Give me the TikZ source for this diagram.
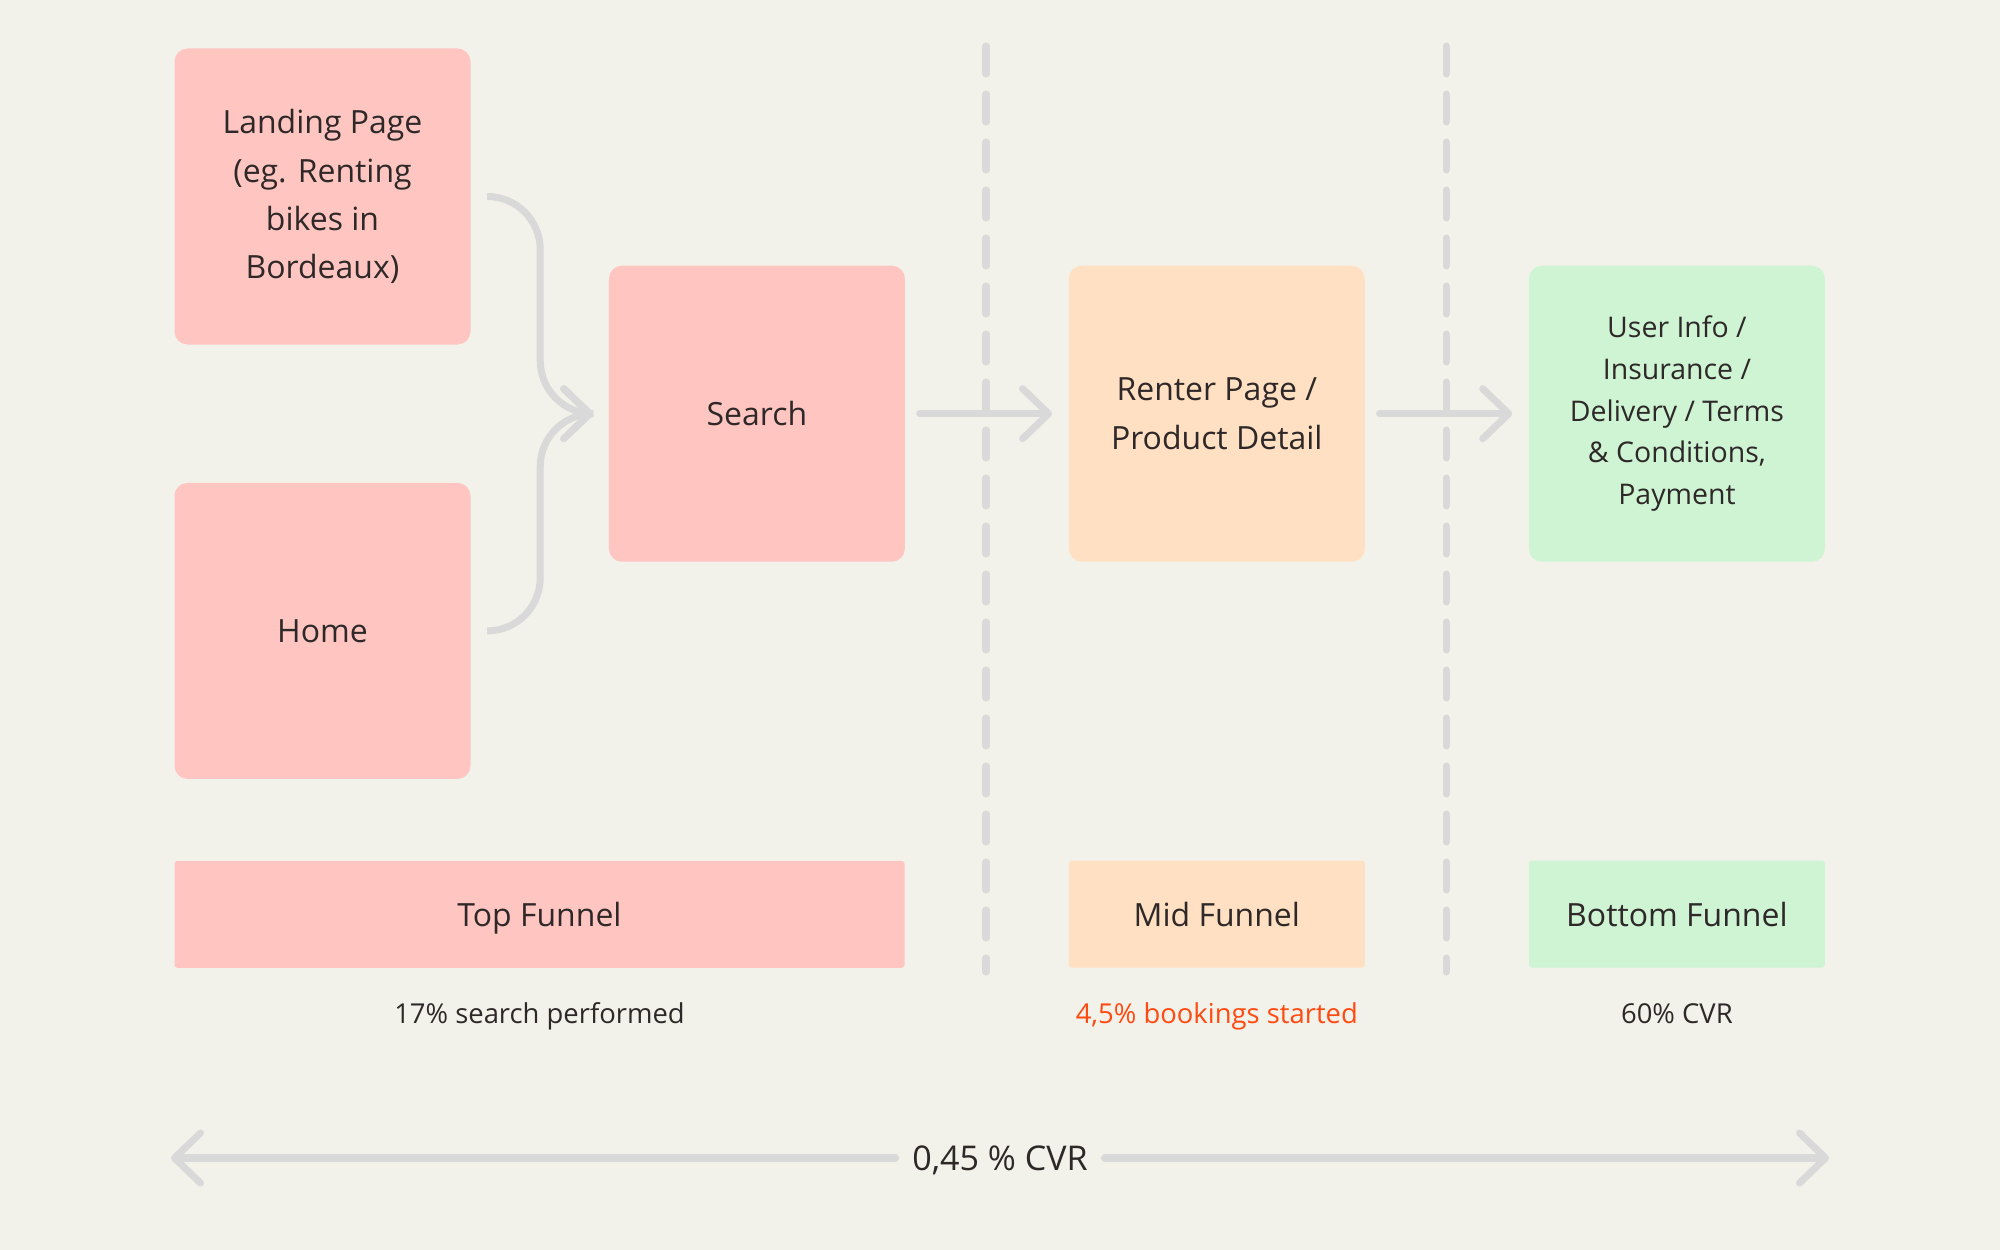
\documentclass[tikz,border=0pt]{standalone}
\usepackage{fontspec}
\setmainfont{Open Sans}
\usetikzlibrary{positioning}
\usetikzlibrary{calc,arrows.meta}
\definecolor{paper}{HTML}{F3F2EA}
\definecolor{toppink}{HTML}{FFC6C1}
\definecolor{midpeach}{HTML}{FFE0C2}
\definecolor{botgreen}{HTML}{CEF4D4}
\definecolor{wire}{HTML}{D9D9D9}
\definecolor{ink}{HTML}{2E2828}
\definecolor{alert}{HTML}{FF4A12}
\tikzset{
  page/.style={rounded corners=1.3mm, minimum width=2.96cm, minimum height=2.96cm,
    align=center, text=ink, inner sep=0pt, font=\fontsize{9.1}{13.7}\selectfont},
  stage/.style={rounded corners=0.3mm, minimum height=1.07cm, text=ink,
    inner sep=0pt, text height=0.97em, text depth=0.25em, font=\fontsize{9.1}{13.7}\selectfont},
  caption/.style={inner sep=0pt, text=ink, text height=0.97em, text depth=0.25em,
    font=\fontsize{7.8}{10}\selectfont},
  flow/.style={draw=wire, line width=2pt, line cap=round, rounded corners=5.3mm,
    -{Straight Barb[length=2.6mm,width=5mm,round]}},
  divider/.style={draw=wire, line width=2pt, line cap=round, dash pattern=on 2.8mm off 2mm}
}

\begin{document}
\begin{tikzpicture}[node distance=1.37cm]
      \fill[paper] (0,0) rectangle (20,-12.5);
      \useasboundingbox (0,0) rectangle (20,-12.5);

      \node(landing) [page, fill=toppink] at (3.225,-1.965) {Landing Page\\(eg. Renting\\bikes in\\Bordeaux)};
      \node(home) [page, fill=toppink, below=1.37cm of landing] {Home};
      \coordinate(mid) at ($(landing.east)!0.5!(home.east)$);
      \node(search) [page, fill=toppink, right=1.37cm of mid] {Search};
      \node(renter) [page, fill=midpeach, right=1.625cm of search] {Renter Page /\\Product Detail};
      \node(userinfo) [page, fill=botgreen, right=1.627cm of renter,
        font=\fontsize{8.1}{11.9}\selectfont] {User Info /\\Insurance /\\Delivery / Terms\\\& Conditions,\\Payment};

      \node(topf) [stage, fill=toppink, minimum width=7.3cm, below right=0.805cm and 0cm of home.south west] {Top Funnel};
      \node(midf) [stage, fill=midpeach, minimum width=2.96cm, below=2.975cm of renter] {Mid Funnel};
      \node(botf) [stage, fill=botgreen, minimum width=2.96cm, below=2.975cm of userinfo] {Bottom Funnel};

      \node(topc) [caption, below=0.2cm of topf] {17\% search performed};
      \node(midc) [caption, below=0.2cm of midf, text=alert] {4,5\% bookings started};
      \node(botc) [caption, below=0.2cm of botf] {60\% CVR};

      \node(cvr) [caption, inner xsep=1.6mm, font=\fontsize{9.7}{12}\selectfont] at (10,-11.58) {0,45 \% CVR};
      \coordinate(cvrl) at (1.71,-11.58);
      \coordinate(cvrr) at (18.29,-11.58);

      \coordinate(cut1a) at (9.86,-0.46);
      \coordinate(cut1b) at (9.86,-9.72);
      \coordinate(cut2a) at (14.46,-0.46);
      \coordinate(cut2b) at (14.46,-9.72);

      \draw[divider] (cut1a) -- (cut1b);
      \draw[divider] (cut2a) -- (cut2b);

      \draw[flow] ([xshift=1.6mm]landing.east) -| ([xshift=-6.8mm]search.west) -- ([xshift=-1.5mm]search.west);
      \draw[flow] ([xshift=1.6mm]home.east) -| ([xshift=-6.8mm]search.west) -- ([xshift=-1.5mm]search.west);
      \draw[flow] ([xshift=1.4mm]search.east) -- ([xshift=-1.6mm]renter.west);
      \draw[flow] ([xshift=1.4mm]renter.east) -- ([xshift=-1.6mm]userinfo.west);
      \draw[flow] (cvr.west) -- (cvrl);
      \draw[flow] (cvr.east) -- (cvrr);
    \end{tikzpicture}
\end{document}
